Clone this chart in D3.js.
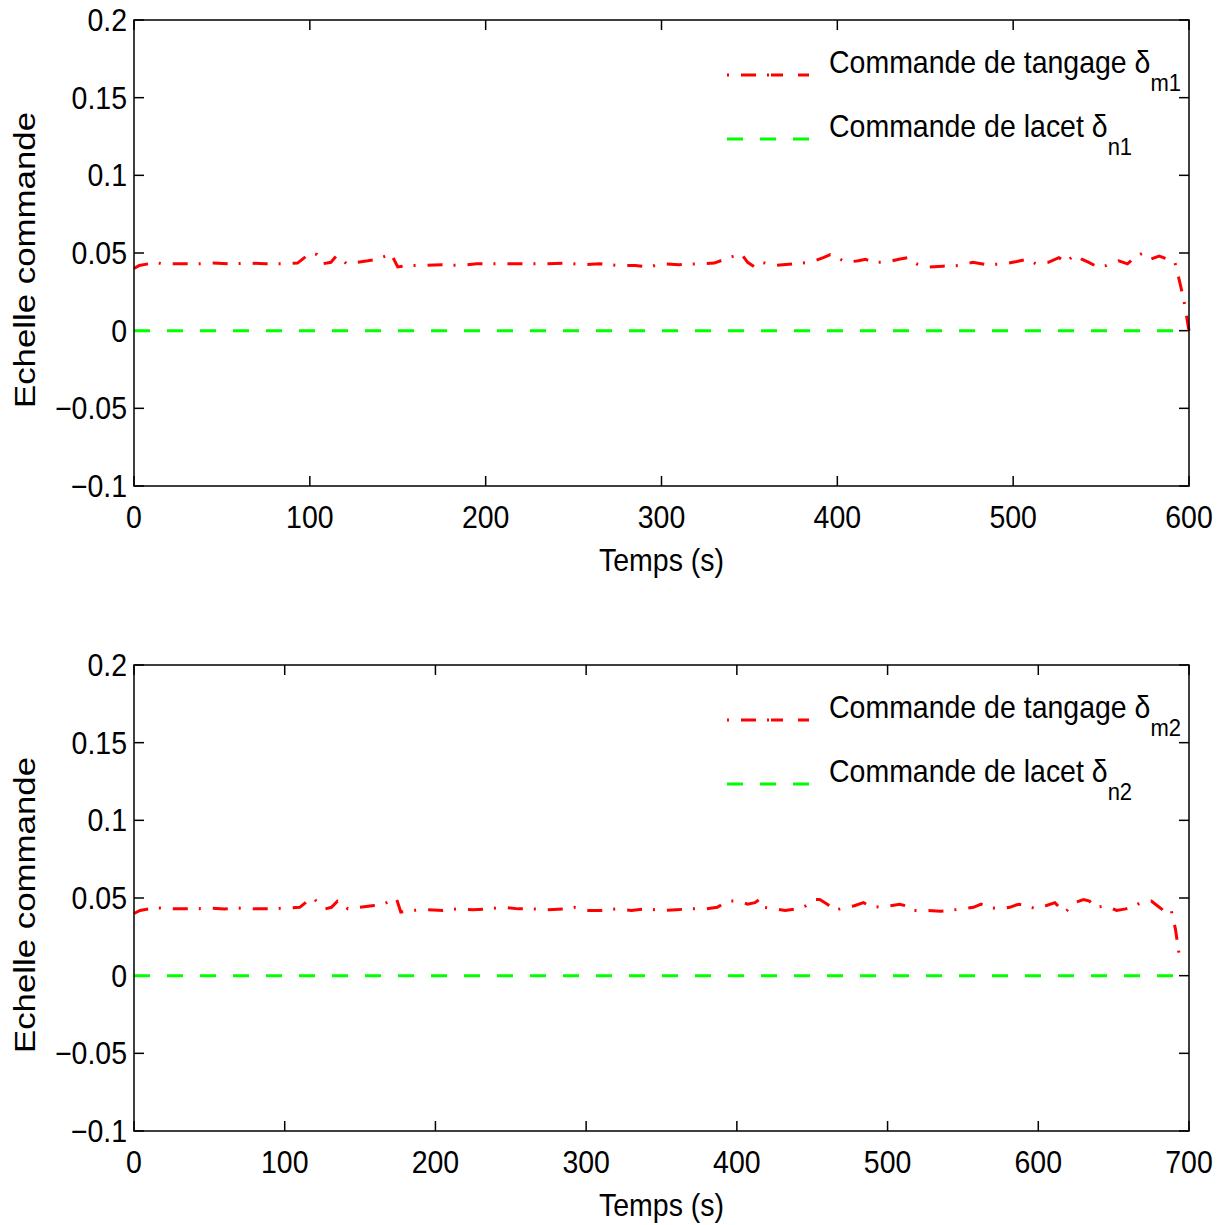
<!DOCTYPE html>
<html><head><meta charset="utf-8">
<script src="https://cdn.jsdelivr.net/npm/d3@7"></script>
<style>body{margin:0;background:#fff}text{font-family:"Liberation Sans",Arial,sans-serif;fill:#000}</style>
</head><body>
<svg id="c" width="1225" height="1225"></svg>
<script>
// ---- data ----
const yTicks = [-0.1, -0.05, 0, 0.05, 0.1, 0.15, 0.2];
const xTicks1 = [0, 100, 200, 300, 400, 500, 600];
const xTicks2 = [0, 100, 200, 300, 400, 500, 600, 700];

const t1 = [0,3,8,12,16,25,35,45,55,65,75,85,93,98,101,104,107,112,115,118,121,127,133,138,143,146,150,156,165,175,185,195,205,215,225,235,245,255,265,275,285,293,300,310,320,330,336,341,345,349,353,357,365,375,385,392,396,400,405,412,416,420,428,435,440,445,452,460,470,477,485,495,502,508,513,520,526,530,535,539,543,548,553,560,565,570,574,578,583,588,592,595,597,600];
const pitch1 = [0.040,0.042,0.043,0.044,0.043,0.043,0.043,0.0435,0.043,0.0435,0.043,0.043,0.0435,0.048,0.050,0.049,0.043,0.044,0.048,0.046,0.043,0.044,0.045,0.046,0.048,0.050,0.041,0.042,0.042,0.0425,0.042,0.043,0.043,0.043,0.043,0.043,0.0435,0.0425,0.043,0.042,0.042,0.041,0.043,0.0425,0.043,0.0435,0.046,0.048,0.050,0.044,0.041,0.044,0.042,0.043,0.044,0.047,0.049,0.047,0.044,0.045,0.046,0.044,0.044,0.046,0.047,0.043,0.041,0.0415,0.042,0.044,0.0425,0.043,0.0445,0.046,0.043,0.044,0.047,0.044,0.049,0.046,0.044,0.041,0.042,0.045,0.043,0.048,0.050,0.046,0.048,0.046,0.044,0.030,0.020,0.000];
const yaw1T = [0, 600];
const yaw1 = [0, 0];

const t2 = [0,4,10,15,20,30,40,50,60,70,80,90,100,110,115,119,123,127,131,135,138,142,150,158,165,170,174,177,185,195,205,215,225,235,245,255,265,275,285,292,300,310,320,330,340,350,360,370,380,387,392,397,402,407,412,415,418,425,432,440,446,451,455,460,465,472,478,484,488,495,502,508,512,516,525,535,541,550,557,562,567,575,581,587,593,598,605,611,615,618,624,630,634,638,645,652,658,662,670,675,679,683,688,691,693,694];
const pitch2 = [0.040,0.042,0.043,0.044,0.043,0.043,0.043,0.0435,0.043,0.0435,0.043,0.043,0.0435,0.044,0.048,0.050,0.046,0.043,0.044,0.048,0.046,0.043,0.044,0.045,0.046,0.048,0.050,0.041,0.042,0.0425,0.042,0.043,0.0425,0.043,0.044,0.043,0.043,0.0425,0.043,0.044,0.042,0.042,0.043,0.042,0.043,0.042,0.0425,0.043,0.043,0.044,0.047,0.048,0.048,0.046,0.047,0.049,0.044,0.043,0.042,0.043,0.045,0.049,0.049,0.046,0.042,0.044,0.045,0.047,0.045,0.044,0.045,0.046,0.045,0.042,0.042,0.0415,0.042,0.043,0.044,0.046,0.044,0.043,0.044,0.046,0.045,0.043,0.045,0.047,0.043,0.041,0.047,0.049,0.048,0.044,0.045,0.042,0.043,0.044,0.048,0.048,0.045,0.042,0.043,0.030,0.017,0.008];
const yaw2T = [0, 691];
const yaw2 = [0, 0];

const legend1 = [["Commande de tangage δ", "m1"], ["Commande de lacet δ", "n1"]];
const legend2 = [["Commande de tangage δ", "m2"], ["Commande de lacet δ", "n2"]];
const yLabel = "Echelle commande";
const xLabel = "Temps (s)";

// ---- drawing ----
const svg = d3.select("#c");
const fmt = v => (v < 0 ? "\u2212" : "") + String(Math.abs(v));
const X0 = 134, X1 = 1189;
const RED = "#ff0000", GREEN = "#00ff00";
const SY = 1.1; // vertical stretch of glyphs

function txt(g, x, y, s, size, anchor) {
  return g.append("text").attr("transform", `translate(${x},${y}) scale(1,${SY})`)
    .attr("font-size", size).attr("text-anchor", anchor || "start").text(s);
}

function panel(top, bottom, xMax, xTicks, tp, vp, ty, vy, legend) {
  const g = svg.append("g");
  const x = d3.scaleLinear().domain([0, xMax]).range([X0, X1]);
  const y = d3.scaleLinear().domain([-0.1, 0.2]).range([bottom, top]);
  const TL = 10;
  xTicks.forEach(v => {
    g.append("line").attr("x1", x(v)).attr("x2", x(v)).attr("y1", bottom).attr("y2", bottom - TL).attr("stroke", "#000").attr("stroke-width", 1.5);
    g.append("line").attr("x1", x(v)).attr("x2", x(v)).attr("y1", top).attr("y2", top + TL).attr("stroke", "#000").attr("stroke-width", 1.5);
    txt(g, x(v), bottom + 42, fmt(v), 28.5, "middle");
  });
  yTicks.forEach(v => {
    g.append("line").attr("x1", X0).attr("x2", X0 + TL).attr("y1", y(v)).attr("y2", y(v)).attr("stroke", "#000").attr("stroke-width", 1.5);
    g.append("line").attr("x1", X1).attr("x2", X1 - TL).attr("y1", y(v)).attr("y2", y(v)).attr("stroke", "#000").attr("stroke-width", 1.5);
    txt(g, 127, y(v) + 11, fmt(v), 28.5, "end");
  });
  const line = d3.line().x(d => x(d[0])).y(d => y(d[1]));
  g.append("path").datum(ty.map((t, i) => [t, vy[i]])).attr("d", line)
    .attr("fill", "none").attr("stroke", GREEN).attr("stroke-width", 3).attr("stroke-dasharray", "16,17");
  g.append("path").datum(tp.map((t, i) => [t, vp[i]])).attr("d", line)
    .attr("fill", "none").attr("stroke", RED).attr("stroke-width", 3).attr("stroke-dasharray", "15,11,2,12");
  g.append("rect").attr("x", X0).attr("y", top).attr("width", X1 - X0).attr("height", bottom - top)
    .attr("fill", "none").attr("stroke", "#000").attr("stroke-width", 1.5);
  const ly = [top + 55, top + 119];
  const cols = [RED, GREEN], dash = ["2,12,15,11,2", "16,17"];
  legend.forEach((l, i) => {
    g.append("line").attr("x1", 727).attr("x2", 811).attr("y1", ly[i]).attr("y2", ly[i])
      .attr("stroke", cols[i]).attr("stroke-width", 3).attr("stroke-dasharray", dash[i]);
    const t = g.append("text").attr("transform", `translate(829,${ly[i] - 2}) scale(1,${SY})`).attr("font-size", 28.5);
    t.append("tspan").text(l[0]);
    t.append("tspan").attr("font-size", 22).attr("dy", 16).text(l[1]);
  });
  txt(g, (X0 + X1) / 2, bottom + 85, xLabel, 28.5, "middle");
  g.append("text").attr("transform", `translate(35,${(top + bottom) / 2 + 7}) rotate(-90)`)
    .attr("font-size", 30).attr("text-anchor", "middle").attr("textLength", 296).attr("lengthAdjust", "spacingAndGlyphs").text(yLabel);
}

panel(20, 486, 600, xTicks1, t1, pitch1, yaw1T, yaw1, legend1);
panel(665, 1131, 700, xTicks2, t2, pitch2, yaw2T, yaw2, legend2);
</script>
</body></html>
